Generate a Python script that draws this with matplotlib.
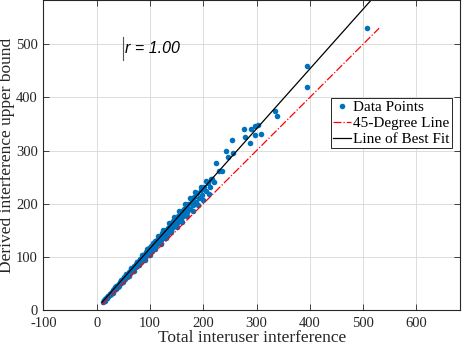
import numpy as np
import matplotlib.pyplot as plt

# scatter data (total interference, derived upper bound)
x_pts = [12, 14, 15, 16, 18, 19, 20, 21, 22, 24, 25, 26, 27, 28, 30, 31, 32, 33, 35, 36,
         37, 38, 40, 41, 42, 44, 45, 46, 48, 49, 50, 52, 53, 55, 56, 58, 59, 60, 62, 63,
         65, 66, 68, 69, 70, 72, 73, 75, 76, 78, 79, 80, 82, 83, 85, 86, 88, 89, 90, 92,
         93, 95, 96, 98, 99, 100, 102, 103, 105, 106, 108, 109, 110, 112, 113, 115, 116, 118, 120, 121,
         123, 125, 126, 128, 130, 131, 133, 135, 137, 139, 140, 142, 144, 146, 148, 150, 152, 154, 156, 158,
         160, 162, 164, 166, 168, 170, 172, 175, 178, 180, 183, 186, 189, 192, 195, 198, 201, 205, 208, 212,
         216, 220,
         # lower edge of the band
         20, 30, 40, 50, 60, 70, 80, 90, 100, 110, 120, 130, 140, 150, 160, 170, 180, 190, 200, 210,
         # upper edge of the band
         25, 35, 45, 55, 65, 75, 85, 95, 105, 115, 125, 135, 145, 155, 165, 175, 185, 195, 205,
         # outliers
         214, 224, 230, 236, 242, 246, 254, 256, 277, 278, 288, 290, 297, 297, 302, 309, 335, 339,
         394, 395, 508]
y_pts = [15, 18, 17, 21, 22, 24, 23, 27, 26, 29, 31, 30, 33, 34, 35, 38, 37, 40, 42, 40,
         45, 44, 47, 49, 46, 53, 50, 55, 56, 58, 54, 62, 59, 65, 62, 68, 64, 71, 70, 74,
         72, 77, 79, 75, 83, 81, 86, 82, 90, 87, 93, 88, 96, 91, 99, 95, 103, 97, 106, 101,
         110, 104, 112, 108, 116, 111, 120, 112, 122, 115, 127, 118, 129, 122, 131, 126, 136, 128, 139, 132,
         144, 136, 147, 139, 150, 142, 155, 147, 160, 152, 163, 155, 168, 158, 172, 163, 176, 168, 180, 171,
         186, 176, 190, 180, 194, 185, 200, 190, 206, 198, 212, 204, 220, 210, 226, 216, 232, 224, 238, 232,
         246, 240,
         22, 33, 43, 53, 64, 74, 84, 94, 104, 115, 125, 135, 146, 156, 166, 177, 187, 197, 207, 218,
         31, 44, 56, 67, 79, 91, 103, 115, 127, 139, 151, 163, 175, 187, 199, 211, 222, 232, 242,
         246, 276, 261, 261, 299, 288, 320, 295, 340, 325, 314, 340, 346, 330, 348, 331, 374, 365,
         419, 459, 531]

# reference lines
ref_x = [10, 530]
fit_slope = 1.125
fit_intercept = 3.5
fit_x = [10, 540]
r_text = 'r = 1.00'

plt.rcParams['font.family'] = ['Liberation Serif', 'DejaVu Serif']
plt.rcParams['axes.unicode_minus'] = False

fig = plt.figure(figsize=(4.62, 3.48), dpi=100)
ax = fig.add_axes([0.094, 0.109, 0.902, 0.891])

ax.plot(x_pts, y_pts, 'o', color='#0072BD', markersize=4, markeredgewidth=0, label='Data Points')
ax.plot(ref_x, ref_x, '-.', color='red', linewidth=0.9, label='45-Degree Line')
fit_y = [fit_slope * v + fit_intercept for v in fit_x]
ax.plot(fit_x, fit_y, '-', color='black', linewidth=0.9, label='Line of Best Fit')

# correlation annotation
ax.plot([50, 50], [470, 513], color='#555555', linewidth=0.8)
ax.text(53, 491, r_text, fontsize=11.5, family=['Liberation Sans'], style='italic',
        va='center', ha='left')

ax.set_xlim(-100, 682)
ax.set_ylim(0, 583)
ax.set_xticks([-100, 0, 100, 200, 300, 400, 500, 600])
ax.set_yticks([0, 100, 200, 300, 400, 500])
ax.tick_params(direction='in', labelsize=10.5, length=4, width=0.6, top=True, right=True,
               colors='#262626', pad=4)
ax.tick_params(axis='x', pad=5)
ax.grid(True, color='#dcdcdc', linewidth=0.7)
ax.set_axisbelow(True)
for s in ax.spines.values():
    s.set_color('#262626')
    s.set_linewidth(0.8)

ax.set_xlabel('Total interuser interference', fontsize=12.5, labelpad=0, color='#262626')
ax.set_ylabel('Derived interference upper bound', fontsize=12.5, labelpad=1, color='#262626')

leg = ax.legend(loc='upper left', bbox_to_anchor=(0.69, 0.684), fontsize=11, frameon=True,
                fancybox=False, edgecolor='#262626', framealpha=1, borderpad=0.15,
                handlelength=1.15, handletextpad=0.15, labelspacing=0.15, borderaxespad=0)
leg.get_frame().set_linewidth(0.7)

fig.savefig('out.png', dpi=100)
